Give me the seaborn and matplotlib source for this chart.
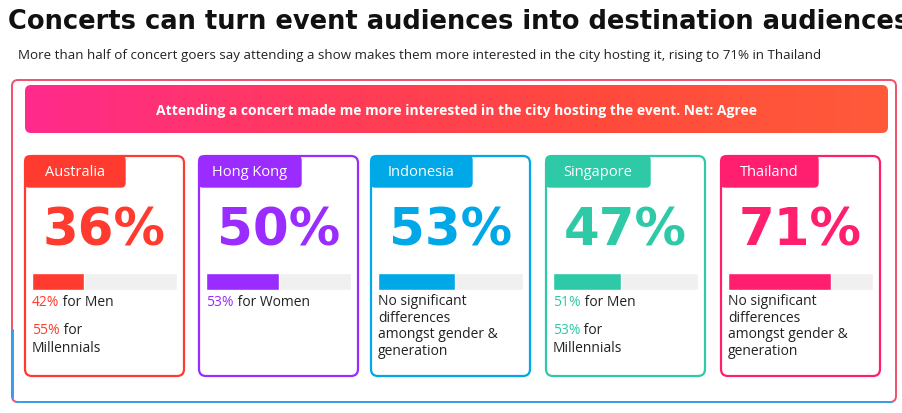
import matplotlib
matplotlib.use("Agg")
import matplotlib.pyplot as plt
import seaborn as sns
import numpy as np
import pandas as pd
from matplotlib.patches import FancyBboxPatch
from matplotlib.colors import LinearSegmentedColormap

sns.set_theme(style="white")
plt.rcParams['font.family'] = ['Open Sans', 'DejaVu Sans']

countries = ["Australia", "Hong Kong", "Indonesia", "Singapore", "Thailand"]
values = [36, 50, 53, 47, 71]
colors = ["#ff3b2f", "#9b2cff", "#00a8e8", "#2ec9a7", "#ff1f6e"]
notes = [
    [("42%", " for Men"), ("55%", " for\nMillennials")],
    [("53%", " for Women")],
    [("", "No significant\ndifferences\namongst gender &\ngeneration")],
    [("51%", " for Men"), ("53%", " for\nMillennials")],
    [("", "No significant\ndifferences\namongst gender &\ngeneration")],
]
title = "Concerts can turn event audiences into destination audiences"
subtitle = ("More than half of concert goers say attending a show makes them more interested "
            "in the city hosting it, rising to 71% in Thailand")
header = "Attending a concert made me more interested in the city hosting the event. Net: Agree"

W, H = 902, 413
fig = plt.figure(figsize=(W/100, H/100), dpi=100)
ax = fig.add_axes([0, 0, 1, 1])
ax.set_xlim(0, W); ax.set_ylim(H, 0); ax.axis("off")

ax.text(8, 22, title, fontsize=18.5, fontweight="bold", family="DejaVu Sans",
        va="center", color="#111")
ax.text(18, 55, subtitle, fontsize=9.6, va="center", color="#222")

ax.add_patch(FancyBboxPatch((12, 80), 884, 322, boxstyle="round,pad=0,rounding_size=6",
                            fc="white", ec="#f0506e", lw=1.4))
ax.plot([12.5, 12.5], [330, 398], color="#3aa0ee", lw=1.4)
ax.plot([16, 892], [401.5, 401.5], color="#3aa0ee", lw=1.4)

cmap = LinearSegmentedColormap.from_list("g", ["#ff2a8c", "#ff3a5c", "#ff4a3c", "#ff5a3a"])
grad = np.linspace(0, 1, 256).reshape(1, -1)
im = ax.imshow(grad, cmap=cmap, extent=(25, 888, 133, 85), aspect="auto", zorder=1)
clip = FancyBboxPatch((25, 85), 863, 48, boxstyle="round,pad=0,rounding_size=6",
                      fc="none", ec="none", transform=ax.transData)
ax.add_patch(clip); im.set_clip_path(clip)
ax.text(457, 111, header, fontsize=10, fontweight="bold", color="white",
        ha="center", va="center", zorder=2)

card_x = [25, 199, 371, 546, 721]
card_w = 159
tab_w = [100, 102, 101, 104, 97]
fig.canvas.draw()
for i, (c, v, col) in enumerate(zip(countries, values, colors)):
    x0 = card_x[i]
    ax.add_patch(FancyBboxPatch((x0, 156), card_w, 220, boxstyle="round,pad=0,rounding_size=7",
                                fc="white", ec=col, lw=1.6, zorder=2))
    ax.add_patch(FancyBboxPatch((x0, 156), tab_w[i], 31, boxstyle="round,pad=0,rounding_size=4",
                                fc=col, ec=col, lw=1, zorder=3))
    ax.text(x0 + tab_w[i]/2, 172, c, fontsize=10.5, color="white", ha="center", va="center", zorder=4)
    ax.text(x0 + card_w/2, 232, f"{v}%", fontsize=37, fontweight="bold", family="DejaVu Sans",
            color=col, ha="center", va="center", zorder=4)
    bx0, bx1 = x0 + 7, x0 + 152
    bax = fig.add_axes([bx0/W, 1 - 290/H, (bx1-bx0)/W, 17/H])
    df = pd.DataFrame({"c": [c], "v": [v], "full": [100]})
    sns.barplot(data=df, x="full", y="c", color="#f0f0f0", width=1, saturation=1, ax=bax)
    sns.barplot(data=df, x="v", y="c", color=col, width=1, saturation=1, ax=bax)
    bax.set_xlim(0, 100); bax.axis("off")
    y = 303
    for hl, rest in notes[i]:
        tx = x0 + 7
        if hl:
            t = ax.text(tx, y, hl, fontsize=10, color=col, va="center", zorder=4)
            bb = t.get_window_extent(renderer=fig.canvas.get_renderer())
            parts = rest.split("\n")
            ax.text(bb.x1, y, parts[0], fontsize=10, color="#222", va="center", zorder=4)
            if len(parts) > 1:
                ax.text(x0 + 7, y + 19, parts[1], fontsize=10, color="#222", va="center", zorder=4)
            y += 27
        else:
            ax.text(tx, y - 9, rest, fontsize=10, color="#222", va="top", linespacing=1.15, zorder=4)

fig.savefig("out.png", dpi=100)
